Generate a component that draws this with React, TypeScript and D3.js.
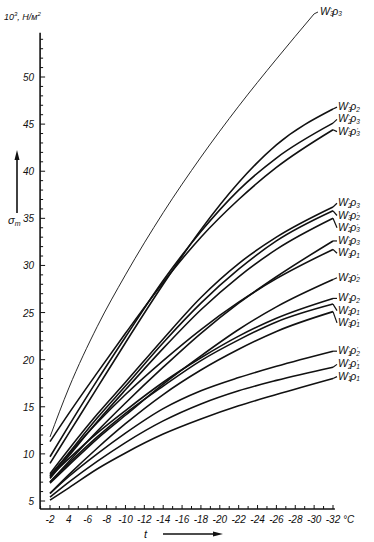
import React from "react";
import * as d3 from "d3";

// temperatures (°C) at which curve values were read
const temps = [-2, -4, -7, -10, -14, -18, -22, -26, -32];
const tempsThin = [-2, -4, -7, -10, -14, -18, -22, -26, -30];

// series values σm (10³ N/m²)
const sW3p3thin = [11.8, 17.0, 23.5, 29.0, 35.6, 41.5, 46.9, 51.9, 56.7];
const sW3p2 = [9.0, 12.2, 17.0, 21.8, 28.0, 33.8, 38.8, 42.8, 46.6];
const sW2p3 = [9.7, 13.0, 17.8, 22.4, 28.4, 33.6, 38.0, 41.4, 45.1];
const sW3p3p = [11.3, 14.3, 18.6, 22.8, 28.2, 33.0, 37.0, 40.4, 44.4];
const sW2p3b = [7.9, 10.5, 14.2, 17.6, 22.2, 26.6, 30.2, 33.0, 36.2];
const sW3p2p = [7.6, 10.1, 13.8, 17.2, 21.8, 26.0, 29.6, 32.6, 35.8];
const sW2p3p = [7.4, 9.8, 13.4, 16.8, 21.2, 25.3, 28.8, 31.7, 35.0];
const sW1p3 = [7.0, 9.2, 12.4, 15.4, 19.2, 22.8, 26.0, 28.8, 32.6];
const sW3p1 = [7.7, 10.0, 13.3, 16.3, 19.9, 23.2, 26.1, 28.6, 31.7];
const sW2p2p = [6.9, 8.8, 11.6, 14.1, 17.4, 20.4, 23.2, 25.6, 28.5];
const sW1p2 = [7.6, 9.5, 12.2, 14.6, 17.6, 20.2, 22.5, 24.4, 26.5];
const sW2p1 = [7.0, 9.0, 11.8, 14.3, 17.2, 19.9, 22.1, 24.0, 25.9];
const sW3p1p = [5.8, 7.8, 10.6, 13.2, 16.3, 18.9, 21.1, 23.0, 25.1];
const sW1p2p = [5.8, 7.6, 10.0, 12.2, 14.8, 16.7, 18.1, 19.3, 20.9];
const sW2p1p = [5.4, 7.0, 9.2, 11.2, 13.5, 15.3, 16.7, 17.8, 19.2];
const sW1p1 = [5.1, 6.4, 8.4, 10.1, 12.1, 13.7, 15.1, 16.3, 18.0];

// label parts: W index, ρ index, ρ prime
const labelW = ["3", "3", "2", "3", "2", "3", "2", "1", "3", "2", "1", "2", "3", "1", "2", "1"];
const labelP = ["3", "2", "3", "3", "3", "2", "3", "3", "1", "2", "2", "1", "1", "2", "1", "1"];
const labelPPrime = [false, false, false, true, false, true, true, false, false, true, false, false, true, true, true, false];
// σ level at which each label sits
const labelLevel = [56.9, 46.8, 45.5, 44.2, 36.6, 35.3, 34.0, 32.6, 31.3, 28.7, 26.5, 25.2, 23.9, 20.9, 19.5, 18.2];

const seriesList = [
  sW3p3thin, sW3p2, sW2p3, sW3p3p, sW2p3b, sW3p2p, sW2p3p, sW1p3,
  sW3p1, sW2p2p, sW1p2, sW2p1, sW3p1p, sW1p2p, sW2p1p, sW1p1,
];

const xTickLabels = ["-2", "4", "-6", "-8", "-10", "-12", "-14", "-16", "-18", "-20", "-22", "-24", "-26", "-28", "-30", "-32"];
const xTickValues = [-2, -4, -6, -8, -10, -12, -14, -16, -18, -20, -22, -24, -26, -28, -30, -32];
const yTickValues = [5, 10, 15, 20, 25, 30, 35, 40, 45, 50];

const FONT = "'Liberation Sans Narrow', 'Liberation Sans', Arial, sans-serif";
const LFONT = "'Liberation Sans', Arial, sans-serif";

export default function App() {
  const W = 374, H = 542;
  const x = d3.scaleLinear().domain([-2, -32]).range([50, 333]);
  const y = d3.scaleLinear().domain([5, 50]).range([501, 77]);
  const axisX0 = x(-0.95);
  const axisX1 = x(-32.2);
  const axisY0 = y(4.15);
  const axisY1 = y(54.7);

  const line = d3
    .line<[number, number]>()
    .x((d) => x(d[0]))
    .y((d) => y(d[1]))
    .curve(d3.curveMonotoneX);

  const minorX = d3.range(-1, -33, -1);
  const minorY = d3.range(5, 55, 1);

  const label = (i: number) => {
    const lx = i === 0 ? 320 : 338;
    const ly = y(labelLevel[i]) + 3;
    return (
      <text key={"l" + i} x={lx} y={ly} fontSize={10.5} fontStyle="italic" fontFamily={LFONT} fill="#111">
        W
        <tspan fontSize={6.5} dy={1.5}>{labelW[i]}</tspan>
        <tspan fontSize={6} dx={-3.2} dy={-4.5}>′</tspan>
        <tspan dx={0.8} dy={3}>ρ</tspan>
        <tspan fontSize={6.5} dy={1.5}>{labelP[i]}</tspan>
        {labelPPrime[i] ? (
          <tspan fontSize={6} dx={-3.2} dy={-4.5}>′</tspan>
        ) : null}
      </text>
    );
  };

  return (
    <svg width={W} height={H} style={{ position: "absolute", left: 0, top: 0, background: "#fff" }}>
      <rect width={W} height={H} fill="#fff" />
      {/* axes */}
      <line x1={axisX0} y1={axisY0} x2={axisX1} y2={axisY0} stroke="#111" strokeWidth={1.6} />
      <line x1={axisX0} y1={axisY0} x2={axisX0} y2={axisY1} stroke="#111" strokeWidth={1.6} />
      {minorX.map((t) => (
        <line key={"tx" + t} x1={x(t)} x2={x(t)} y1={axisY0} y2={axisY0 - (t % 2 === 0 ? 4 : 3)} stroke="#111" strokeWidth={1} />
      ))}
      {minorY.map((v) => (
        <line key={"ty" + v} x1={axisX0} x2={axisX0 + (v % 5 === 0 ? 5 : 3)} y1={y(v)} y2={y(v)} stroke="#111" strokeWidth={1} />
      ))}
      {xTickValues.map((t, i) => (
        <text key={"xl" + t} x={x(t)} y={axisY0 + 14} fontSize={10} fontStyle="italic" fontFamily={FONT} textAnchor="middle" fill="#111">
          {xTickLabels[i]}
        </text>
      ))}
      {yTickValues.map((v) => (
        <text key={"yl" + v} x={axisX0 - 6} y={y(v) + 4} fontSize={10} fontStyle="italic" fontFamily={FONT} textAnchor="end" fill="#111">
          {v}
        </text>
      ))}
      <text x={343} y={axisY0 + 14} fontSize={10} fontStyle="italic" fontFamily={FONT} fill="#111">°C</text>
      <text x={4} y={20} fontSize={9} fontStyle="italic" fontFamily={FONT} fill="#111">
        10<tspan fontSize={6} dy={-4}>3</tspan><tspan dy={4}>, Н/м</tspan><tspan fontSize={6} dy={-4}>2</tspan>
      </text>
      {/* sigma label and arrow */}
      <line x1={17} y1={213} x2={17} y2={158} stroke="#111" strokeWidth={1.6} />
      <path d="M17,150 L14.5,160 L19.5,160 Z" fill="#111" />
      <text x={8} y={224} fontSize={11} fontStyle="italic" fontFamily={FONT} fill="#111">
        σ<tspan fontSize={7} dy={2}>m</tspan>
      </text>
      {/* t label and arrow */}
      <text x={144} y={538} fontSize={11} fontStyle="italic" fontFamily={FONT} fill="#111">t</text>
      <line x1={163} y1={534} x2={214} y2={534} stroke="#111" strokeWidth={1.6} />
      <path d="M223,534 L213,531.5 L213,536.5 Z" fill="#111" />
      {/* curves */}
      {seriesList.map((s, i) => {
        const ts = i === 0 ? tempsThin : temps;
        const pts: [number, number][] = ts.map((t, j) => [t, s[j]]);
        return (
          <path key={"c" + i} d={line(pts) || ""} fill="none" stroke="#111" strokeWidth={i === 0 ? 0.9 : 1.6} />
        );
      })}
      {/* leaders */}
      {seriesList.map((s, i) => {
        const ts = i === 0 ? tempsThin : temps;
        const lastT = ts[ts.length - 1];
        const lastV = s[s.length - 1];
        const x1 = x(lastT);
        const y1 = y(lastV);
        const x2 = i === 0 ? 318 : 337;
        const y2 = y(labelLevel[i]);
        return <line key={"ld" + i} x1={x1} y1={y1} x2={x2} y2={y2} stroke="#111" strokeWidth={i === 0 ? 0.9 : 1.2} />;
      })}
      {seriesList.map((_, i) => label(i))}
    </svg>
  );
}
